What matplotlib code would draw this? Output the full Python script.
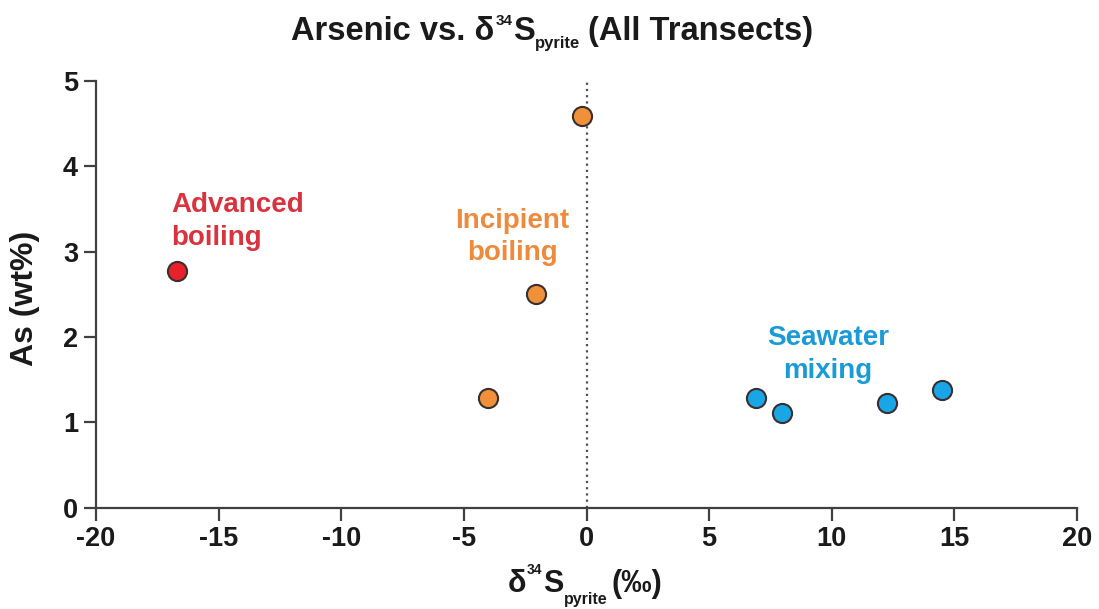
import matplotlib
matplotlib.use('Agg')
import matplotlib.pyplot as plt

plt.rcParams['font.family'] = ['Liberation Sans', 'DejaVu Sans']
plt.rcParams['font.weight'] = 'bold'

# Дані
adv_x = [-16.7]
adv_y = [2.77]
inc_x = [-0.2, -2.05, -4.0]
inc_y = [4.59, 2.50, 1.28]
sea_x = [6.9, 7.95, 12.25, 14.5]
sea_y = [1.28, 1.11, 1.23, 1.38]

x_ticks = [-20, -15, -10, -5, 0, 5, 10, 15, 20]
y_ticks = [0, 1, 2, 3, 4, 5]

# Кольори
red, orange, blue = '#e8222c', '#f0903a', '#19a6e6'
red_txt, orange_txt, blue_txt = '#d9333f', '#ee8a3c', '#1a9ad6'
edge = '#3a2f2f'
axc = '#404040'
txt = '#1a1a1a'

W, H = 1099, 609
fig = plt.figure(figsize=(W / 100, H / 100), dpi=100)
ax = fig.add_axes([0.0874, 0.1663, 0.8926, 0.7012])


def rich_text(cx, base_y, parts):
    # parts: (текст, розмір, зсув по y в пікселях, відступ перед шматком)
    rend = fig.canvas.get_renderer()
    items = []
    for s, size, dy, gap in parts:
        t = fig.text(0, 0, s, fontsize=size, fontweight='bold', color=txt,
                     ha='left', va='baseline')
        w = t.get_window_extent(rend).width
        items.append((t, dy, gap, w))
    total = sum(w + g for _, _, g, w in items)
    x = cx - total / 2
    for t, dy, gap, w in items:
        x += gap
        t.set_position((x / W, 1 - (base_y - dy) / H))
        x += w


ax.axvline(0, color='#505050', ls=(0, (1, 1.8)), lw=1.6, zorder=1)

ms = 190
ax.scatter(adv_x, adv_y, s=ms, c=red, edgecolors=edge, linewidths=1.5, zorder=3)
ax.scatter(inc_x, inc_y, s=ms, c=orange, edgecolors=edge, linewidths=1.5, zorder=3)
ax.scatter(sea_x, sea_y, s=ms, c=blue, edgecolors=edge, linewidths=1.5, zorder=3)

ax.text(-16.94, 3.076, 'Advanced\nboiling', color=red_txt, fontsize=20,
        fontweight='bold', ha='left', va='baseline', linespacing=1.37)
ax.text(-3.02, 2.90, 'Incipient\nboiling', color=orange_txt, fontsize=20,
        fontweight='bold', ha='center', va='baseline', linespacing=1.29)
ax.text(9.84, 1.52, 'Seawater\nmixing', color=blue_txt, fontsize=20,
        fontweight='bold', ha='center', va='baseline', linespacing=1.37)

ax.set_xlim(-20, 20)
ax.set_ylim(0, 5)
ax.set_xticks(x_ticks)
ax.set_yticks(y_ticks)
ax.set_xticklabels([str(t) for t in x_ticks])
ax.set_yticklabels([str(t) for t in y_ticks])

for s in ['top', 'right']:
    ax.spines[s].set_visible(False)
for s in ['left', 'bottom']:
    ax.spines[s].set_color(axc)
    ax.spines[s].set_linewidth(1.6)
ax.tick_params(direction='out', length=9, width=1.6, color=axc,
               labelsize=19.5, labelcolor=txt, pad=4)
for lbl in ax.get_xticklabels() + ax.get_yticklabels():
    lbl.set_fontweight('bold')

fig.text(25 / W, 1 - 298 / H, 'As (wt%)', rotation=90, fontsize=23,
         fontweight='bold', color=txt, ha='center', va='center')

# Заголовок і підпис осі x з індексами
rich_text(552, 40, [('Arsenic vs. δ', 23.5, 0, 0), ('34', 11, 15, 1),
                    ('S', 23.5, 0, 0), ('pyrite', 12, -8, 1),
                    ('(All Transects)', 23.5, 0, 7)])
rich_text(585, 592, [('δ', 22, 0, 0), ('34', 10, 18, 1), ('S', 22, 0, 0),
                     ('pyrite', 11.5, -12, 1), ('(‰)', 22, 0, 4)])

fig.savefig('out.png', dpi=100)
